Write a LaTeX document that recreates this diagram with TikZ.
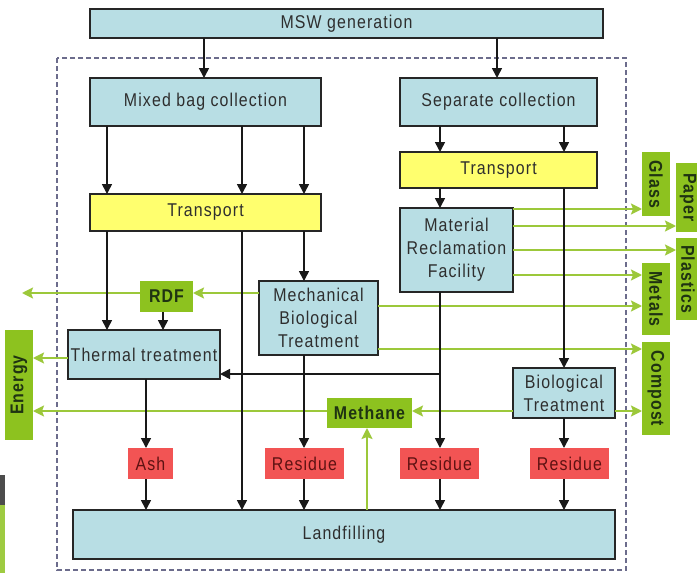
\documentclass[tikz,border=0pt]{standalone}
\usepackage{fontspec}
\setmainfont[FakeStretch=0.86,LetterSpace=6]{Liberation Sans}
\usetikzlibrary{arrows.meta}
\definecolor{lblue}{HTML}{B8DEE4}
\definecolor{yel}{HTML}{FFFF6E}
\definecolor{grn}{HTML}{8DC21F}
\definecolor{grnline}{HTML}{9CC83A}
\definecolor{rd}{HTML}{F25454}
\definecolor{txt}{HTML}{2E2E2E}
\definecolor{gtxt}{HTML}{1F3312}
\definecolor{rtxt}{HTML}{5E1212}
\definecolor{dashc}{HTML}{6C6C8C}
\begin{document}
\begin{tikzpicture}[x=1pt,y=-1pt,
  base/.style={inner sep=0pt, outer sep=0pt, align=center, font=\fontsize{18.5}{23}\selectfont},
  bbox/.style={base, draw=black!85, line width=1.8pt, fill=lblue, text=txt},
  ybox/.style={bbox, fill=yel},
  gbox/.style={base, fill=grn, text=gtxt, font=\fontsize{18.5}{23}\selectfont\bfseries},
  rbox/.style={base, fill=rd, text=rtxt},
  arr/.style={line width=1.6pt, draw=black!90, -{Triangle[length=10pt,width=10pt]}},
  garr/.style={line width=2pt, draw=grnline, -{Stealth[length=11pt,width=11pt,inset=2pt]}},
  frame/.style={draw=dashc, line width=1.3pt, dash pattern=on 5pt off 3pt}
  ]
\useasboundingbox (0,0) rectangle (697,573);
\clip (0,0) rectangle (697,573);
\fill[white] (0,0) rectangle (697,573);
% edge bars
\fill[black!70] (0,475) rectangle (5,505);
\fill[grn!85!white] (0,505) rectangle (5,573);
% dashed frame
\draw[frame] (57,58) rectangle (626,570);

% helper coordinates
\foreach \v in {107,146,163,204,242,304,367,440,497,564} {\coordinate (X\v) at (\v,0);}
\foreach \v in {209,226,250,275,293,306,349,358,411} {\coordinate (Y\v) at (0,\v);}
\coordinate (rdfout) at (22,293);
\coordinate (j) at (440,374);

% nodes
\node[bbox, minimum width=513pt, minimum height=29pt] (msw) at (346.5,23.5) {MSW generation};
\node[bbox, minimum width=231pt, minimum height=48pt] (mixed) at (205.5,102) {Mixed bag collection};
\node[bbox, minimum width=197pt, minimum height=48pt] (sep) at (498.5,102) {Separate collection};
\node[ybox, minimum width=231pt, minimum height=37pt] (trL) at (205.5,212.5) {Transport};
\node[ybox, minimum width=197pt, minimum height=36pt] (trR) at (498.5,170) {Transport};
\node[bbox, minimum width=113pt, minimum height=84pt] (mrf) at (456.5,250) {Material\\Reclamation\\Facility};
\node[bbox, minimum width=119pt, minimum height=74pt] (mbt) at (318.5,318) {Mechanical\\Biological\\Treatment};
\node[gbox, minimum width=53pt, minimum height=31pt] (rdf) at (166.5,296.5) {RDF};
\node[bbox, minimum width=152pt, minimum height=49pt] (thermal) at (144,354.5) {Thermal treatment};
\node[bbox, minimum width=102pt, minimum height=50pt] (bio) at (564,393) {Biological\\Treatment};
\node[gbox, minimum width=85pt, minimum height=30pt] (methane) at (369.5,413) {Methane};
\node[gbox, minimum width=110pt, minimum height=28pt, rotate=90] (energy) at (19,385) {Energy};
\node[rbox, minimum width=45pt, minimum height=31pt] (ash) at (150.5,463.5) {Ash};
\node[rbox, minimum width=79pt, minimum height=31pt] (res1) at (304.5,463.5) {Residue};
\node[rbox, minimum width=79pt, minimum height=31pt] (res2) at (439.5,463.5) {Residue};
\node[rbox, minimum width=79pt, minimum height=31pt] (res3) at (569.5,463.5) {Residue};
\node[bbox, minimum width=542pt, minimum height=49pt] (land) at (344,534.5) {Landfilling};
\node[gbox, minimum width=64pt, minimum height=28pt, rotate=-90] (glass) at (656,184) {Glass};
\node[gbox, minimum width=69pt, minimum height=24pt, rotate=-90] (paper) at (688,197.5) {Paper};
\node[gbox, minimum width=82pt, minimum height=24pt, rotate=-90] (plastics) at (688,279) {Plastics};
\node[gbox, minimum width=72pt, minimum height=28pt, rotate=-90] (metals) at (656,299) {Metals};
\node[gbox, minimum width=93pt, minimum height=28pt, rotate=-90] (compost) at (656,388.5) {Compost};

% green connectors
\draw[garr] (mbt.west |- Y293) -- (rdf.east |- Y293);
\draw[garr] (rdf.west |- Y293) -- (rdfout);
\draw[garr] (thermal.west |- Y358) -- (energy.south |- Y358);
\draw[garr] (methane.west |- Y411) -- (energy.south |- Y411);
\draw[garr] (bio.west |- Y411) -- (methane.east |- Y411);
\draw[garr] (land.north -| X367) -- (methane.south -| X367);
\draw[garr] (mrf.east |- Y209) -- (glass.south |- Y209);
\draw[garr] (mrf.east |- Y226) -- (paper.south |- Y226);
\draw[garr] (mrf.east |- Y250) -- (plastics.south |- Y250);
\draw[garr] (mrf.east |- Y275) -- (metals.south |- Y275);
\draw[garr] (mbt.east |- Y306) -- (metals.south |- Y306);
\draw[garr] (mbt.east |- Y349) -- (compost.south |- Y349);
\draw[garr] (bio.east |- Y411) -- (compost.south |- Y411);

% black connectors
\draw[arr] (msw.south -| X204) -- (mixed.north -| X204);
\draw[arr] (msw.south -| X497) -- (sep.north -| X497);
\foreach \c in {X107,X242,X304} {\draw[arr] (mixed.south -| \c) -- (trL.north -| \c);}
\foreach \c in {X440,X564} {\draw[arr] (sep.south -| \c) -- (trR.north -| \c);}
\draw[arr] (trR.south -| X440) -- (mrf.north -| X440);
\draw[arr] (trR.south -| X564) -- (bio.north -| X564);
\draw[arr] (trL.south -| X107) -- (thermal.north -| X107);
\draw[arr] (trL.south -| X304) -- (mbt.north -| X304);
\draw[arr] (trL.south -| X242) -- (land.north -| X242);
\draw[arr] (rdf.south -| X163) -- (thermal.north -| X163);
\draw[arr] (thermal.south -| X146) -- (ash.north -| X146);
\draw[arr] (ash.south -| X146) -- (land.north -| X146);
\draw[arr] (mbt.south -| X304) -- (res1.north -| X304);
\draw[arr] (res1.south -| X304) -- (land.north -| X304);
\draw[arr] (mrf.south -| X440) -- (res2.north -| X440);
\draw[arr] (res2.south -| X440) -- (land.north -| X440);
\draw[arr] (bio.south -| X564) -- (res3.north -| X564);
\draw[arr] (res3.south -| X564) -- (land.north -| X564);
\draw[arr] (j) -- (thermal.east |- j);
\end{tikzpicture}
\end{document}
